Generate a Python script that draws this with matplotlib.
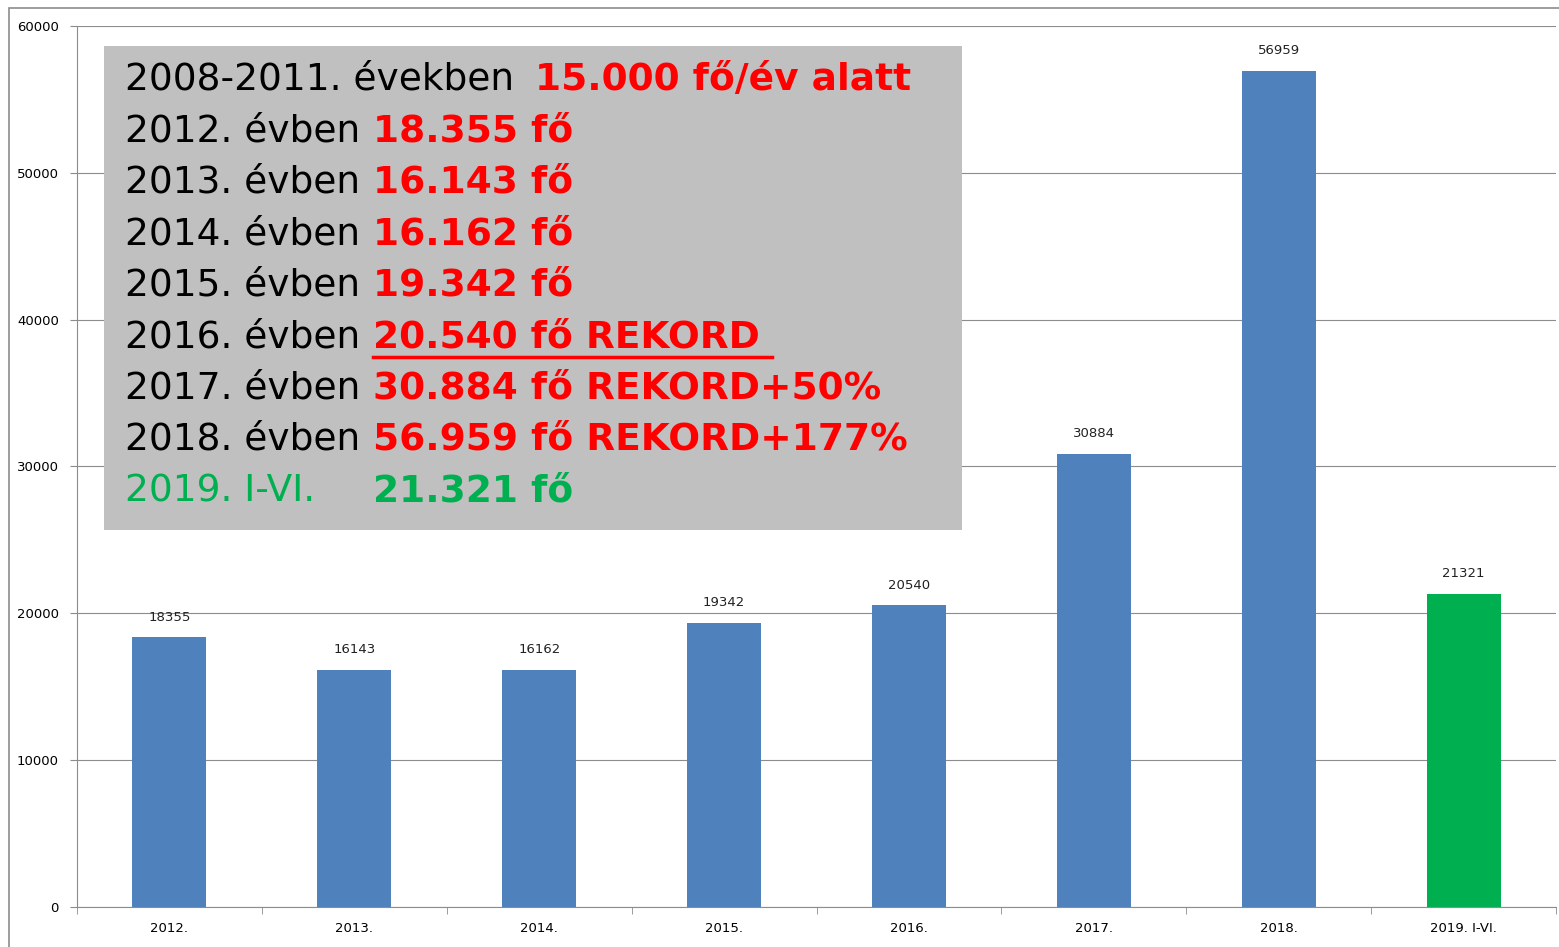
import matplotlib.pyplot as plt
from matplotlib.patches import Rectangle
from matplotlib.lines import Line2D

# data
years = ['2012.', '2013.', '2014.', '2015.', '2016.', '2017.', '2018.', '2019. I-VI.']
values = [18355, 16143, 16162, 19342, 20540, 30884, 56959, 21321]
bar_colors = ['#4F81BD'] * 7 + ['#00B050']

# text box lines: (prefix, highlighted part, prefix colour, highlight colour)
box_lines = [
    ('2008-2011. években ', '15.000 fő/év alatt', 'black', '#FF0000'),
    ('2012. évben ', '18.355 fő', 'black', '#FF0000'),
    ('2013. évben ', '16.143 fő', 'black', '#FF0000'),
    ('2014. évben ', '16.162 fő', 'black', '#FF0000'),
    ('2015. évben ', '19.342 fő', 'black', '#FF0000'),
    ('2016. évben ', '20.540 fő REKORD', 'black', '#FF0000'),
    ('2017. évben ', '30.884 fő REKORD+50%', 'black', '#FF0000'),
    ('2018. évben ', '56.959 fő REKORD+177%', 'black', '#FF0000'),
    ('2019. I-VI. ', '21.321 fő', '#00B050', '#00B050'),
]

W, H = 1559, 947
fig = plt.figure(figsize=(W / 100, H / 100), dpi=100)
ax = fig.add_axes([77 / W, (H - 907) / H, (1556 - 77) / W, (907 - 26) / H])

x = range(len(years))
ax.bar(x, values, width=0.4, color=bar_colors, zorder=2)
for xi, v in zip(x, values):
    ax.annotate(str(v), (xi, v), xytext=(0, 10), textcoords='offset points',
                ha='center', va='bottom', fontsize=9.5, color='#222222')

ax.set_xlim(-0.5, len(years) - 0.5)
ax.set_ylim(0, 60000)
ax.set_yticks(range(0, 60001, 10000))
ax.set_yticklabels([str(t) for t in range(0, 60001, 10000)], fontsize=9.5)
ax.set_xticks(list(x))
ax.set_xticklabels(years, fontsize=9.5)
ax.set_xticks([i + 0.5 for i in range(-1, len(years))], minor=True)
ax.tick_params(axis='x', which='major', length=0, pad=11)
ax.tick_params(axis='x', which='minor', length=5, color='#8c8c8c')
ax.tick_params(axis='y', length=5, color='#8c8c8c', pad=8)
ax.yaxis.grid(True, color='#8c8c8c', linewidth=0.8, zorder=0)
ax.set_axisbelow(True)
for s in ['top', 'right']:
    ax.spines[s].set_visible(False)
for s in ['left', 'bottom']:
    ax.spines[s].set_color('#8c8c8c')

# outer frame (right and bottom edges fall outside the picture)
fig.patches.append(Rectangle((9 / W, -0.05), 1.1, (H - 8) / H + 0.05, transform=fig.transFigure,
                             fill=False, edgecolor='#8c8c8c', linewidth=1.2))

# gray text box
fig.patches.append(Rectangle((104 / W, (H - 530) / H), (962 - 104) / W, (530 - 46) / H,
                             transform=fig.transFigure, facecolor='#C0C0C0',
                             edgecolor='none', zorder=5))

red_x = [535, 373, 373, 373, 373, 373, 373, 373, 373]
for i, (pre, hi, c1, c2) in enumerate(box_lines):
    yc = 80 + i * 51.4
    fig.text(125 / W, 1 - yc / H, pre, fontsize=27, color=c1, va='center',
             ha='left', zorder=6)
    fig.text(red_x[i] / W, 1 - yc / H, hi, fontsize=27, color=c2, va='center',
             ha='left', fontweight='bold', zorder=6)

# underline for the 2016 record
fig.lines.append(Line2D([373 / W, 772 / W], [1 - 357 / H, 1 - 357 / H],
                        transform=fig.transFigure, color='#FF0000', linewidth=2.5, zorder=6))

fig.savefig('out.png', dpi=100)
